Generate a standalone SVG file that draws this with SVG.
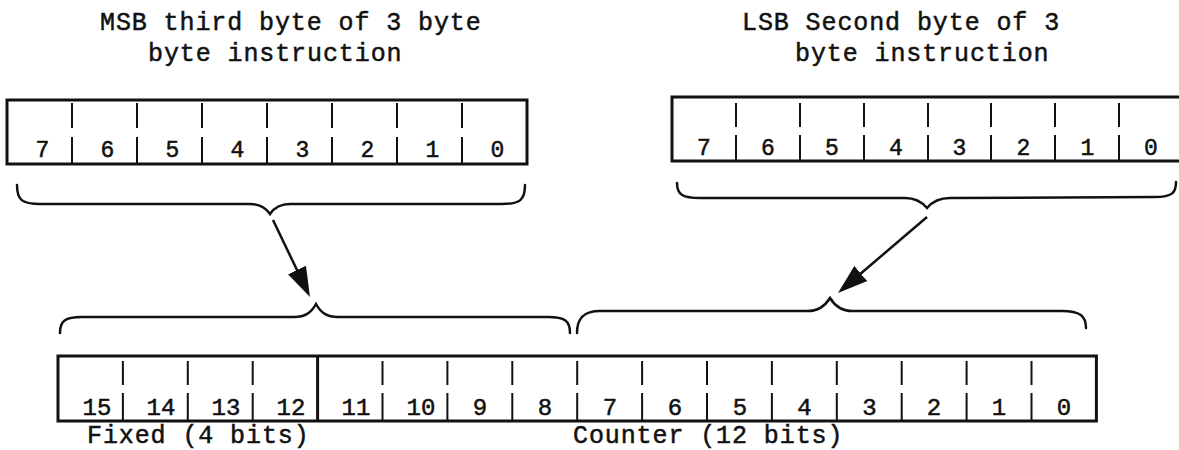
<svg xmlns="http://www.w3.org/2000/svg" width="1179" height="450" viewBox="0 0 1179 450">
<style>
.t{font-family:"Liberation Mono","DejaVu Sans Mono",monospace;font-size:25px;letter-spacing:0.9px;fill:#111;stroke:#111;stroke-width:0.5}
.d{font-family:"Liberation Mono","DejaVu Sans Mono",monospace;font-size:23px;fill:#111;stroke:#111;stroke-width:0.5;text-anchor:middle}
.db{font-family:"Liberation Mono","DejaVu Sans Mono",monospace;font-size:24px;fill:#111;stroke:#111;stroke-width:0.5;text-anchor:middle}
.box{fill:none;stroke:#111;stroke-width:3}
.tick{stroke:#111;stroke-width:2;fill:none}
.brace{fill:none;stroke:#111;stroke-width:2.5;stroke-linecap:round}
.arr{stroke:#111;stroke-width:2.5;fill:none}
</style>
<defs>
<marker id="ah" markerUnits="userSpaceOnUse" markerWidth="32" markerHeight="22" refX="10" refY="11" orient="auto">
<path d="M0,1 L30,11 L0,21 z" fill="#111"/>
</marker>
</defs>
<rect width="1179" height="450" fill="#fff"/>

<g id="title-msb">
<text class="t" x="100" y="30">MSB third byte of 3 byte</text>
<text class="t" x="148" y="61">byte instruction</text>
</g>
<g id="title-lsb">
<text class="t" x="742" y="30">LSB Second byte of 3</text>
<text class="t" x="795" y="61">byte instruction</text>
</g>

<g id="reg-msb">
<rect class="box" x="7" y="100" width="520" height="64"/>
<path class="tick" d="M72,103V128M72,137V164M137,103V128M137,137V164M202,103V128M202,137V164M267,103V128M267,137V164M332,103V128M332,137V164M397,103V128M397,137V164M462,103V128M462,137V164"/>
<text class="d" x="42.5" y="157">7</text>
<text class="d" x="107.5" y="157">6</text>
<text class="d" x="172.5" y="157">5</text>
<text class="d" x="237.5" y="157">4</text>
<text class="d" x="302.5" y="157">3</text>
<text class="d" x="367.5" y="157">2</text>
<text class="d" x="432.5" y="157">1</text>
<text class="d" x="497.5" y="157">0</text>
</g>

<g id="reg-lsb">
<rect class="box" x="672" y="97" width="511" height="64"/>
<path class="tick" d="M736,103V127M736,135V161M800,103V127M800,135V161M864,103V127M864,135V161M928,103V127M928,135V161M991,103V127M991,135V161M1055,103V127M1055,135V161M1119,103V127M1119,135V161"/>
<text class="d" x="704" y="155">7</text>
<text class="d" x="768" y="155">6</text>
<text class="d" x="832" y="155">5</text>
<text class="d" x="896" y="155">4</text>
<text class="d" x="959.5" y="155">3</text>
<text class="d" x="1023.5" y="155">2</text>
<text class="d" x="1087.5" y="155">1</text>
<text class="d" x="1151" y="155">0</text>
</g>

<g id="brace-msb">
<path class="brace" d="M17,185 C17,200 22,204 40,204 L250,204 C260,204 266,208 270,214 C274,208 280,204 290,204 L502,204 C520,204 525,200 525,185"/>
</g>
<g id="brace-lsb">
<path class="brace" d="M677,183 C677,195 683,198 700,198 L905,198 C916,198 922,202 927,208 C932,202 938,198 950,198 L1155,197 C1172,197 1176,193 1176,182"/>
</g>

<g id="brace-fixed">
<path class="brace" d="M60,333 C60,321 65,317 82,317 L294,317 C305,317 311,313 316,304 C321,313 327,317 338,317 L548,317 C565,317 570,321 570,333"/>
</g>
<g id="brace-counter">
<path class="brace" d="M577,333 C577,318 584,311 600,311 L808,311 C819,311 825,306 830,298 C835,306 841,311 852,311 L1062,311 C1080,311 1086,316 1086,328"/>
</g>

<g id="reg-16">
<rect class="box" x="58" y="356" width="1038.4" height="65"/>
<line x1="317.6" y1="356" x2="317.6" y2="421" stroke="#111" stroke-width="3"/>
<path class="tick" d="M122.9,361V385M122.9,393V421M187.8,361V385M187.8,393V421M252.7,361V385M252.7,393V421M382.5,361V385M382.5,393V421M447.4,361V385M447.4,393V421M512.3,361V385M512.3,393V421M577.2,361V385M577.2,393V421M642.1,361V385M642.1,393V421M707,361V385M707,393V421M771.9,361V385M771.9,393V421M836.8,361V385M836.8,393V421M901.7,361V385M901.7,393V421M966.6,361V385M966.6,393V421M1031.5,361V385M1031.5,393V421"/>
<text class="db" x="97" y="415">15</text>
<text class="db" x="161" y="415">14</text>
<text class="db" x="226" y="415">13</text>
<text class="db" x="291" y="415">12</text>
<text class="db" x="356" y="415">11</text>
<text class="db" x="421" y="415">10</text>
<text class="db" x="480" y="415">9</text>
<text class="db" x="545" y="415">8</text>
<text class="db" x="610" y="415">7</text>
<text class="db" x="675" y="415">6</text>
<text class="db" x="740" y="415">5</text>
<text class="db" x="804.5" y="415">4</text>
<text class="db" x="869.5" y="415">3</text>
<text class="db" x="934" y="415">2</text>
<text class="db" x="999" y="415">1</text>
<text class="db" x="1064" y="415">0</text>
</g>

<g id="label-fixed">
<text class="t" x="87" y="443">Fixed (4 bits)</text>
</g>
<g id="label-counter">
<text class="t" x="573" y="443">Counter (12 bits)</text>
</g>

<g id="connectors">
<line class="arr" x1="273" y1="220" x2="301.3" y2="279" marker-end="url(#ah)"/>
<line class="arr" x1="927" y1="217" x2="853.2" y2="280" marker-end="url(#ah)"/>
</g>
</svg>
